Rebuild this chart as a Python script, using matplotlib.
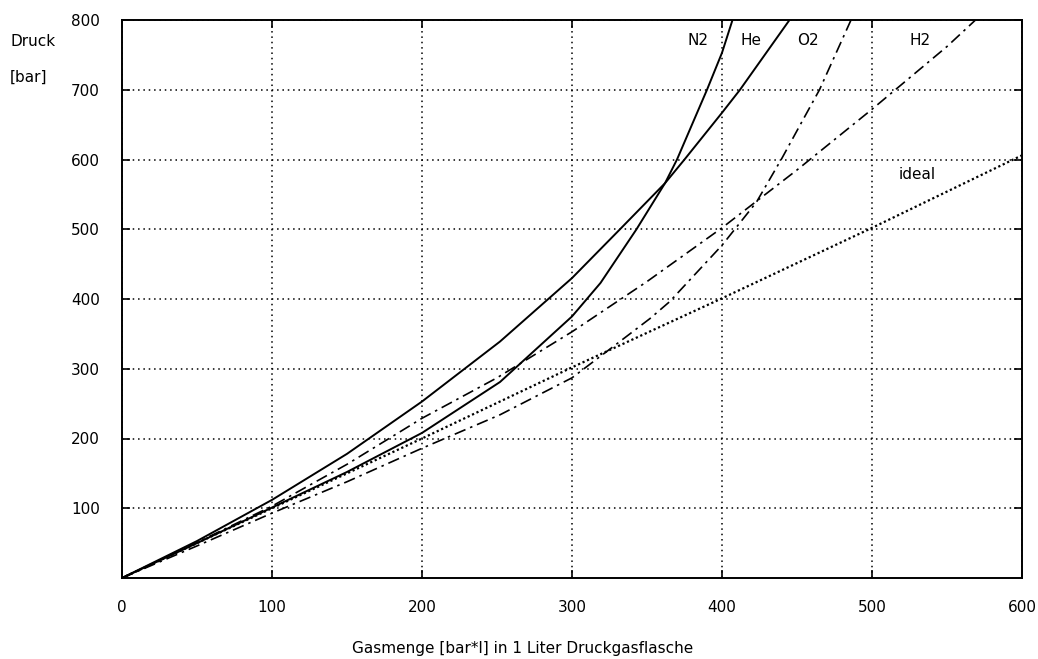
import numpy as np
import matplotlib.pyplot as plt

# values
he_x = [0, 50, 100, 150, 200, 252, 300, 332, 362, 375, 400, 412, 445]
he_y = [0, 53, 112, 178, 253, 339, 430, 500, 566, 600, 667, 700, 800]

n2_x = [0, 50, 100, 150, 200, 252, 300, 319, 343, 362, 370, 390, 400, 407]
n2_y = [0, 50, 101, 152, 208, 281, 375, 423, 500, 566, 600, 700, 753, 800]

o2_x = [0, 50, 100, 150, 200, 252, 300, 327, 352, 365, 400, 423, 440, 454, 465, 486]
o2_y = [0, 46, 93, 138, 186, 234, 287, 331, 372, 396, 477, 539, 602, 657, 700, 800]

h2_x = [0, 50, 100, 150, 200, 250, 300, 350, 400, 450, 500, 550, 569]
h2_y = [0, 51, 103, 163, 229, 287, 353, 425, 502, 585, 672, 762, 800]

ideal_x = [0, 100, 200, 300, 400, 500, 600]
ideal_y = [0, 100, 200, 302, 401, 502, 606]

curve_labels = ["N2", "He", "O2", "H2"]
label_x = [384, 419, 457, 532]

xticks = [0, 100, 200, 300, 400, 500, 600]
yticks = [100, 200, 300, 400, 500, 600, 700, 800]

plt.rcParams['font.family'] = ['DejaVu Sans']
fig = plt.figure(figsize=(10.38, 6.59), dpi=100)
ax = fig.add_axes([122/1038, 1-578/659, 900/1038, 558/659])

dashdot = (0, (7, 3, 1.5, 3))
ax.plot(he_x, he_y, color='black', lw=1.4)
ax.plot(n2_x, n2_y, color='black', lw=1.4)
ax.plot(o2_x, o2_y, color='black', lw=1.2, linestyle=dashdot)
ax.plot(h2_x, h2_y, color='black', lw=1.2, linestyle=dashdot)
ax.plot(ideal_x, ideal_y, color='black', lw=1.6, linestyle=(0, (1, 1.2)))

for name, lx in zip(curve_labels, label_x):
    ax.text(lx, 770, name, ha='center', va='center', fontsize=11)
ax.text(530, 579, "ideal", ha='center', va='center', fontsize=11)

ax.set_xlim(0, 600)
ax.set_ylim(0, 800)
ax.set_xticks(xticks)
ax.set_yticks(yticks)
ax.grid(True, color='black', linestyle=(0, (1, 2.5)), lw=1.1)
ax.tick_params(direction='in', length=6, width=1.2, top=True, right=True,
               labelsize=11, pad=16)
for s in ax.spines.values():
    s.set_linewidth(1.4)

fig.text(10/1038, 1-41/659, "Druck", ha='left', va='center', fontsize=11)
fig.text(10/1038, 1-77/659, "[bar]", ha='left', va='center', fontsize=11)
fig.text(523/1038, 1-649/659, "Gasmenge [bar*l] in 1 Liter Druckgasflasche",
         ha='center', va='center', fontsize=11)

fig.savefig("out.png", dpi=100)
